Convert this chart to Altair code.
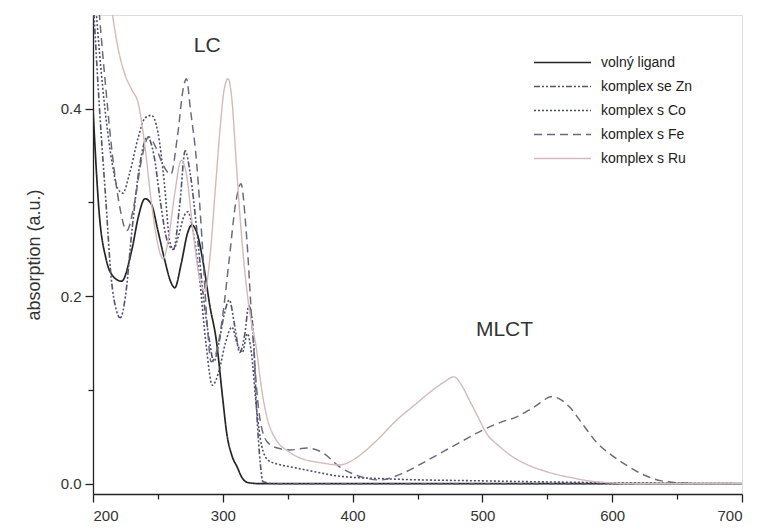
import altair as alt
import pandas as pd

# ---- data ----
series_names = ["volný ligand", "komplex se Zn", "komplex s Co", "komplex s Fe", "komplex s Ru"]

wl_ligand = [200, 205, 210, 215, 222, 230, 235, 240, 245, 250, 255, 260, 263, 268, 273, 276, 280, 285, 290, 295, 300, 303, 307, 311, 315, 320, 330, 400, 500, 600, 700]
abs_ligand = [0.40, 0.285, 0.24, 0.222, 0.216, 0.25, 0.285, 0.304, 0.298, 0.27, 0.24, 0.215, 0.209, 0.235, 0.268, 0.276, 0.268, 0.235, 0.19, 0.153, 0.09, 0.054, 0.03, 0.018, 0.006, 0.001, 0.0, 0.0, 0.0, 0.0, 0.0]

wl_zn = [200, 205, 210, 214, 218, 221, 225, 230, 236, 242, 247, 252, 257, 262, 267, 271, 275, 280, 285, 290, 293, 297, 301, 305, 309, 313, 317, 320, 323, 326, 329, 331, 340, 500, 700]
abs_zn = [0.52, 0.40, 0.30, 0.22, 0.185, 0.177, 0.20, 0.27, 0.34, 0.37, 0.35, 0.30, 0.26, 0.25, 0.30, 0.355, 0.33, 0.27, 0.20, 0.15, 0.13, 0.15, 0.18, 0.196, 0.17, 0.14, 0.16, 0.19, 0.17, 0.08, 0.02, 0.002, 0.0, 0.0, 0.0]

wl_co = [200, 205, 210, 215, 219, 223, 228, 235, 240, 245, 250, 255, 259, 262, 266, 270, 273, 277, 282, 287, 292, 297, 302, 307, 311, 315, 319, 322, 326, 330, 335, 345, 352, 370, 390, 430, 500, 600, 700]
abs_co = [0.55, 0.46, 0.39, 0.34, 0.315, 0.31, 0.33, 0.37, 0.39, 0.393, 0.375, 0.32, 0.26, 0.25, 0.265, 0.285, 0.29, 0.27, 0.22, 0.15, 0.105, 0.12, 0.15, 0.167, 0.15, 0.14, 0.16, 0.14, 0.08, 0.04, 0.025, 0.02, 0.018, 0.013, 0.008, 0.005, 0.003, 0.001, 0.0]

wl_fe = [200, 205, 210, 215, 220, 226, 232, 238, 243, 248, 254, 260, 265, 270, 272, 275, 280, 284, 288, 291, 295, 300, 305, 310, 314, 318, 323, 328, 334, 342, 352, 365, 377, 390, 405, 421, 440, 459, 480, 500, 515, 526, 540, 554, 560, 567, 578, 588, 600, 613, 625, 638, 665, 700]
abs_fe = [0.60, 0.50, 0.42, 0.35, 0.30, 0.27, 0.30, 0.35, 0.37, 0.36, 0.34, 0.33, 0.37, 0.425, 0.432, 0.40, 0.34, 0.26, 0.17, 0.13, 0.14, 0.18, 0.24, 0.30, 0.32, 0.27, 0.16, 0.075, 0.045, 0.038, 0.036, 0.038, 0.033, 0.018, 0.008, 0.004, 0.012, 0.026, 0.042, 0.057, 0.066, 0.071, 0.082, 0.093, 0.09, 0.082, 0.062, 0.044, 0.03, 0.018, 0.009, 0.003, 0.0, 0.0]

wl_ru = [200, 205, 210, 215, 220, 225, 230, 235, 240, 245, 250, 254, 258, 263, 268, 272, 277, 282, 286, 290, 294, 298, 301, 304, 307, 310, 313, 316, 320, 326, 330, 334, 341, 350, 357, 377, 390, 400, 408, 420, 434, 447, 459, 470, 478, 484, 490, 497, 503, 513, 523, 535, 549, 570, 588, 620, 700]
abs_ru = [0.80, 0.65, 0.55, 0.50, 0.46, 0.435, 0.42, 0.405, 0.36, 0.30, 0.255, 0.24, 0.26, 0.31, 0.345, 0.33, 0.27, 0.22, 0.205, 0.24, 0.31, 0.38, 0.42, 0.432, 0.41, 0.35, 0.29, 0.24, 0.19, 0.143, 0.10, 0.071, 0.047, 0.035, 0.029, 0.022, 0.02, 0.025, 0.033, 0.048, 0.068, 0.083, 0.097, 0.108, 0.114, 0.105, 0.089, 0.07, 0.054, 0.04, 0.029, 0.02, 0.013, 0.006, 0.002, 0.0, 0.0]

series_colors = ["#262626", "#555570", "#4c4c6c", "#6a6a7c", "#d3baba"]
series_dashes = [[1, 0], [6, 2, 2, 2, 2, 2], [2, 2], [8, 5], [1, 0]]
series_widths = [1.7, 1.4, 1.4, 1.4, 1.1]

annot_text = ["LC", "MLCT"]
annot_x = [288, 517]
annot_y = [0.467, 0.164]

x_ticks = [200, 250, 300, 350, 400, 450, 500, 550, 600, 650, 700]
y_ticks = [0.0, 0.1, 0.2, 0.3, 0.4]

# ---- build table ----
rows = []
for name, wls, vals in [
    (series_names[0], wl_ligand, abs_ligand),
    (series_names[1], wl_zn, abs_zn),
    (series_names[2], wl_co, abs_co),
    (series_names[3], wl_fe, abs_fe),
    (series_names[4], wl_ru, abs_ru),
]:
    for w, v in zip(wls, vals):
        rows.append({"series": name, "wl": w, "a": v})
df = pd.DataFrame(rows)
ann = pd.DataFrame({"t": annot_text, "x": annot_x, "y": annot_y})

FONT = "Liberation Sans"

legend = alt.Legend(
    title=None,
    orient="none",
    legendX=459,
    legendY=37,
    symbolType="M-3,0H3",
    symbolSize=361,
    symbolStrokeWidth=1.5,
    symbolFillColor="transparent",
    labelFont=FONT,
    labelFontSize=14,
    labelColor="#222",
    labelOffset=28,
    rowPadding=6,
    padding=0,
)

xscale = alt.Scale(domain=[200, 700], nice=False, zero=False)
yscale = alt.Scale(domain=[-0.011, 0.5], nice=False, zero=False)

lines = alt.Chart(df).mark_line(interpolate="monotone", clip=True).encode(
    x=alt.X("wl:Q", scale=xscale, axis=alt.Axis(
        values=x_ticks, title=None,
        labelExpr="datum.value % 100 === 0 ? datum.label : ''",
        tickSize={"condition": {"test": "datum.value % 100 !== 0", "value": 5}, "value": 8},
        labelFontSize=15, labelFont=FONT, labelColor="#333", labelPadding=6,
        domainColor="#222", tickColor="#222", domainWidth=1.3, tickWidth=1.3, grid=False)),
    y=alt.Y("a:Q", scale=yscale, axis=alt.Axis(
        values=y_ticks, title="absorption (a.u.)", format=".1f",
        labelExpr="round(datum.value*10) % 2 === 0 ? datum.label : ''",
        tickSize={"condition": {"test": "round(datum.value*10) % 2 === 1", "value": 5}, "value": 8},
        labelFontSize=15, labelFont=FONT, labelColor="#333", labelPadding=4,
        titleFont=FONT, titleFontSize=18, titleFontWeight="normal", titleColor="#333",
        titlePadding=17,
        domainColor="#222", tickColor="#222", domainWidth=1.3, tickWidth=1.3, grid=False)),
    color=alt.Color("series:N", scale=alt.Scale(domain=series_names, range=series_colors), legend=legend),
    strokeDash=alt.StrokeDash("series:N", scale=alt.Scale(domain=series_names, range=series_dashes), legend=legend),
    strokeWidth=alt.StrokeWidth("series:N", scale=alt.Scale(domain=series_names, range=series_widths), legend=legend),
    detail="series:N",
)

labels = alt.Chart(ann).mark_text(font=FONT, fontSize=21, color="#333").encode(
    x=alt.X("x:Q", scale=xscale),
    y=alt.Y("y:Q", scale=yscale),
    text="t:N",
)

chart = alt.layer(lines, labels).properties(
    width=649,
    height=479,
    autosize=alt.AutoSizeParams(type="none"),
    padding={"left": 85, "top": 7, "right": 9, "bottom": 30},
).configure_view(stroke="#222", strokeWidth=1.3).configure(background="white")

chart.save("out.html", embed_options={"renderer": "svg", "actions": False})
